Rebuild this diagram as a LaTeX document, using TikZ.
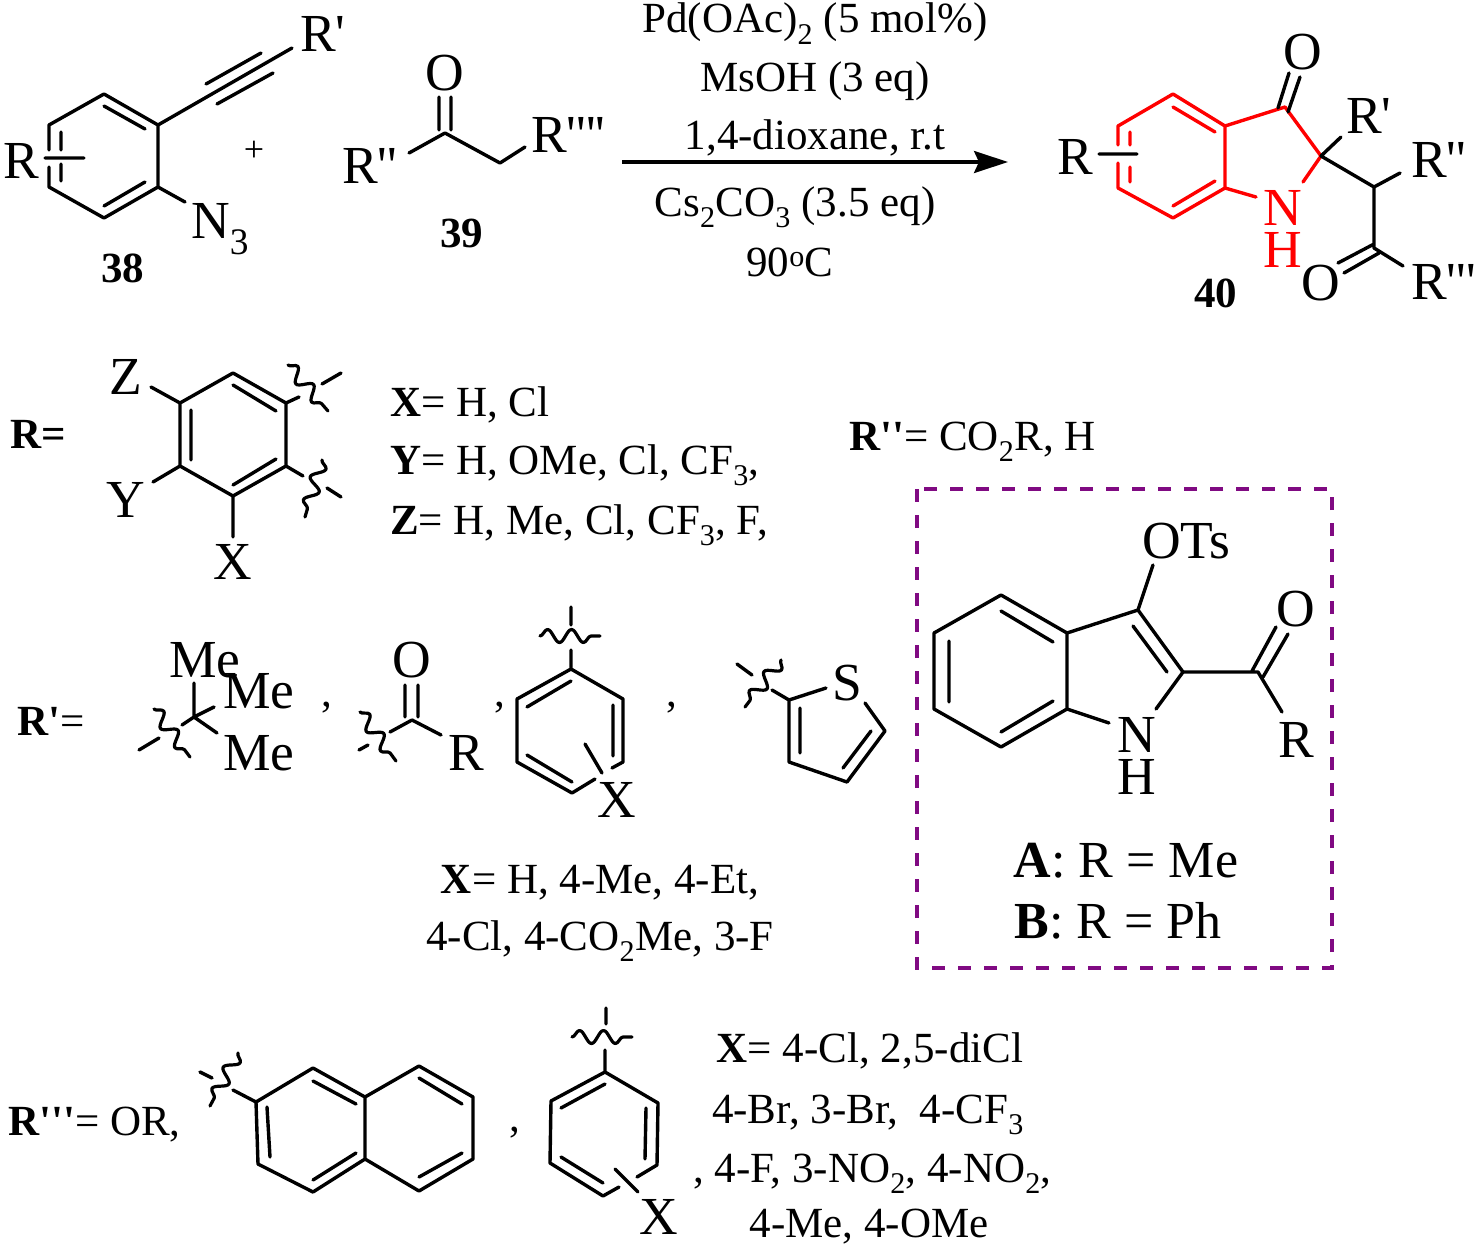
\documentclass[tikz,border=0pt]{standalone}
\usepackage{fontspec}
\newfontfamily\chemfont{Liberation Serif}
\usetikzlibrary{arrows.meta,decorations.pathmorphing}
\tikzset{
 bond/.style={line width=3.4pt,line cap=round,line join=round,black},
 rbond/.style={bond,draw=rd},
 wav/.style={line width=3.2pt,line cap=round,decorate,decoration={snake,segment length=24pt,amplitude=6.5pt}},
 sm/.style={inner sep=0pt,font=\chemfont\fontsize{43}{43}\selectfont,anchor=base west},
 smc/.style={sm,anchor=base},
 lg/.style={inner sep=0pt,font=\chemfont\fontsize{53.5}{53.5}\selectfont,anchor=base west},
 lgc/.style={lg,anchor=center},
 big/.style={inner sep=0pt,font=\chemfont\fontsize{52}{52}\selectfont,anchor=base},
 purplebox/.style={draw=pur,line width=3.4pt,dash pattern=on 13pt off 13pt}
}
\definecolor{rd}{RGB}{255,0,0}
\definecolor{pur}{RGB}{128,10,130}
\newcommand{\Bf}[1]{\textbf{#1}}
\newcommand{\sbs}[1]{\textsubscript{#1}}
\begin{document}
\begin{tikzpicture}[x=1pt,y=-1pt]
\useasboundingbox (0,0) rectangle (1477,1247);
% --- 38
\draw[bond] (49,150)--(49,125)--(104,94)--(158,125)--(158,187)--(104,218)--(49,187)--(49,167);
\draw[bond] (104,106)--(145,129) (104,206)--(145,182) (61,132)--(61,150) (61,164)--(61,181) (45,158)--(84,158);
\draw[bond] (158,125)--(292,48) (206,84)--(261,53) (217,104)--(273,73) (158,187)--(185,202);
\node[lg] (rp38) at (300,52) {R'};
\node[lg] (r38) at (3,178) {R};
\node[lg] (n38) at (191,238) {N\sbs{3}};
\node[sm] (t38) at (101,282) {\Bf{38}};
\node[sm,anchor=center] (plus) at (254,151) {\fontsize{36}{36}\selectfont +};
% --- 39
\draw[bond] (409,153)--(445,133)--(500,163)--(525,147) (439,97)--(439,130) (451,97)--(451,130);
\node[lgc] (o39) at (445,73) {O};
\node[lg] (rpp39) at (342,183) {R''};
\node[lg] (rpppp39) at (531,152) {R''''};
\node[sm] (t39) at (440,247) {\Bf{39}};
% --- arrow + reagents
\coordinate (arrS) at (622,162); \coordinate (arrE) at (1008,162);
\draw[line width=3.2pt,-{Stealth[length=34pt,width=22pt,inset=5pt]}] (arrS)--(arrE);
\node[smc] (re1) at (815,33) {Pd(OAc)\sbs{2} (5 mol\%)};
\node[smc] (re2) at (815,92) {MsOH (3 eq)};
\node[smc] (re3) at (815,149) {1,4-dioxane, r.t};
\node[smc] (re4) at (795,216) {Cs\sbs{2}CO\sbs{3} (3.5 eq)};
\node[smc] (re5) at (790,276) {90\textsuperscript{o}C};
% --- 40
\draw[rbond] (1118,145)--(1118,126)--(1173,94)--(1225,126)--(1225,188)--(1173,218)--(1118,188)--(1118,163);
\draw[rbond] (1173,107)--(1215,132) (1173,206)--(1215,181) (1130,132)--(1130,145) (1130,167)--(1130,182);
\draw[rbond] (1225,126)--(1285,107)--(1321,156)--(1303,182) (1225,188)--(1256,197);
\draw[bond] (1099,154)--(1137,154) (1278,108)--(1289,73) (1288,112)--(1300,77);
\draw[bond] (1341,137)--(1321,156)--(1374,187)--(1400,173) (1374,187)--(1374,248)--(1403,266) (1338,263)--(1374,244) (1344,273)--(1379,253);
\node[lg] (r40) at (1057,174) {R};
\node[lgc] (o40) at (1303,52) {O};
\node[lg] (rp40) at (1346,133) {R'};
\node[lg] (rpp40) at (1411,177) {R''};
\node[lg] (rppp40) at (1411,299) {R'''};
\node[lgc] (o40b) at (1321,283) {O};
\node[lgc,text=rd] (n40) at (1283,208) {N};
\node[lgc,text=rd] (h40) at (1283,250) {H};
\node[sm] (t40) at (1194,307) {\Bf{40}};
% --- R= block
\node[sm] (lbR) at (10,448) {\Bf{R=}};
\draw[bond] (233,373)--(286,403)--(286,466)--(233,496)--(180,466)--(180,403)--cycle;
\draw[bond] (233,385)--(276,411) (233,485)--(276,459) (191,410)--(191,460);
\draw[bond] (180,403)--(151,387) (180,466)--(153,482) (233,496)--(233,537) (286,403)--(299,397) (286,466)--(303,476) (322,384)--(341,373) (327,488)--(341,497);
\draw[bond,wav] (288,365)--(328,411);
\draw[bond,wav] (322,460)--(305,517);
\node[lgc] (z1) at (126,377) {Z};
\node[lgc] (y1) at (126,500) {Y};
\node[lgc] (x1) at (233,562) {X};
\node[sm] (lx) at (390,416) {\Bf{X}= H, Cl};
\node[sm] (ly) at (390,474) {\Bf{Y}= H, OMe, Cl, CF\sbs{3},};
\node[sm] (lz) at (390,534) {\Bf{Z}= H, Me, Cl, CF\sbs{3}, F,};
\node[sm] (lrpp) at (849,450) {\Bf{R''}= CO\sbs{2}R, H};
% --- R' block
\node[sm] (lbRp) at (17,735) {\Bf{R'}=};
\draw[bond] (194,683)--(194,717)--(214,707) (194,717)--(217,733) (194,717)--(182,725) (139,750)--(159,738);
\draw[bond,wav] (154,709)--(190,757);
\node[lgc] (me1) at (205,660) {Me};
\node[lgc] (me2) at (259,691) {Me};
\node[lgc] (me3) at (259,753) {Me};
\node[sm,anchor=center] (c1) at (327,708) {,};
\draw[bond] (390,732)--(412,720)--(441,735) (405,685)--(405,717) (418,685)--(418,717) (359,750)--(368,745);
\draw[bond,wav] (360,712)--(396,761);
\node[lgc] (o2) at (412,660) {O};
\node[lgc] (r2) at (466,753) {R};
\node[sm,anchor=center] (c2) at (500,708) {,};
\draw[bond] (571,650)--(571,669)--(623,699)--(623,762)--(612,768) (595,779)--(572,793)--(517,762)--(517,699)--(571,669);
\draw[bond] (571,681)--(527,707) (613,705)--(613,756) (527,755)--(572,782) (585,744)--(602,773) (571,607)--(571,625);
\draw[bond,wav] (540,636)--(600,636);
\node[lgc] (x2) at (617,800) {X};
\node[sm,anchor=center] (c3) at (672,708) {,};
\draw[bond] (772,690)--(789,700)--(826,688) (865,703)--(885,731)--(847,782)--(789,762)--(789,700) (800,708)--(800,753) (871,731)--(843,768) (737,664)--(752,675);
\draw[bond,wav] (781,660)--(745,707);
\node[lgc] (s2) at (847,683) {S};
\node[smc] (lx2a) at (600,893) {\Bf{X}= H, 4-Me, 4-Et,};
\node[smc] (lx2b) at (600,950) {4-Cl, 4-CO\sbs{2}Me, 3-F};
% --- box
\draw[purplebox] (917,489) rectangle (1332,968);
\draw[bond] (1001,595)--(1067,633)--(1067,709)--(1001,747)--(934,709)--(934,633)--cycle;
\draw[bond] (1001,611)--(1053,642) (1001,732)--(1053,701) (949,641)--(949,702);
\draw[bond] (1067,633)--(1138,610)--(1183,672)--(1156,709) (1067,709)--(1109,723) (1133,626)--(1167,672) (1138,610)--(1153,565);
\draw[bond] (1183,672)--(1258,672)--(1282,712) (1252,671)--(1276,627) (1263,677)--(1288,634);
\node[lg] (ots) at (1142,558) {OTs};
\node[lgc] (o3) at (1296,609) {O};
\node[lgc] (r3) at (1296,740) {R};
\node[lgc] (n3) at (1137,735) {N};
\node[lgc] (h3) at (1137,777) {H};
\node[big] (la) at (1126,877) {\Bf{A}: R = Me};
\node[big] (lb) at (1118,938) {\Bf{B}: R = Ph};
% --- R''' block
\node[sm] (lbRppp) at (8,1135) {\Bf{R'''}= OR,};
\draw[bond] (313,1068)--(365,1097)--(365,1159)--(313,1192)--(258,1164)--(256,1102)--cycle;
\draw[bond] (365,1097)--(419,1066)--(473,1097)--(473,1159)--(419,1191)--(365,1159);
\draw[bond] (313,1081)--(356,1104) (313,1180)--(356,1153) (267,1107)--(270,1157) (419,1078)--(462,1104) (419,1177)--(462,1153);
\draw[bond] (256,1102)--(233,1090) (200,1072)--(212,1078);
\draw[bond,wav] (238,1053)--(210,1106);
\node[sm,anchor=center] (c4) at (515,1133) {,};
\draw[bond] (605,1050)--(605,1072)--(658,1103)--(657,1165)--(637,1177) (619,1187)--(603,1196)--(550,1163)--(551,1101)--(605,1072);
\draw[bond] (605,1084)--(561,1108) (646,1108)--(645,1159) (561,1157)--(603,1183) (615,1169)--(638,1192) (606,1008)--(606,1024);
\draw[bond,wav] (572,1037)--(632,1037);
\node[lgc] (x4) at (659,1217) {X};
\node[smc] (l41) at (870,1062) {\Bf{X}= 4-Cl, 2,5-diCl};
\node[smc] (l42) at (868,1123) {4-Br, 3-Br,\ \ 4-CF\sbs{3}};
\node[sm] (l43) at (693,1182) {, 4-F, 3-NO\sbs{2}, 4-NO\sbs{2},};
\node[smc] (l44) at (869,1237) {4-Me, 4-OMe};
\end{tikzpicture}
\end{document}
